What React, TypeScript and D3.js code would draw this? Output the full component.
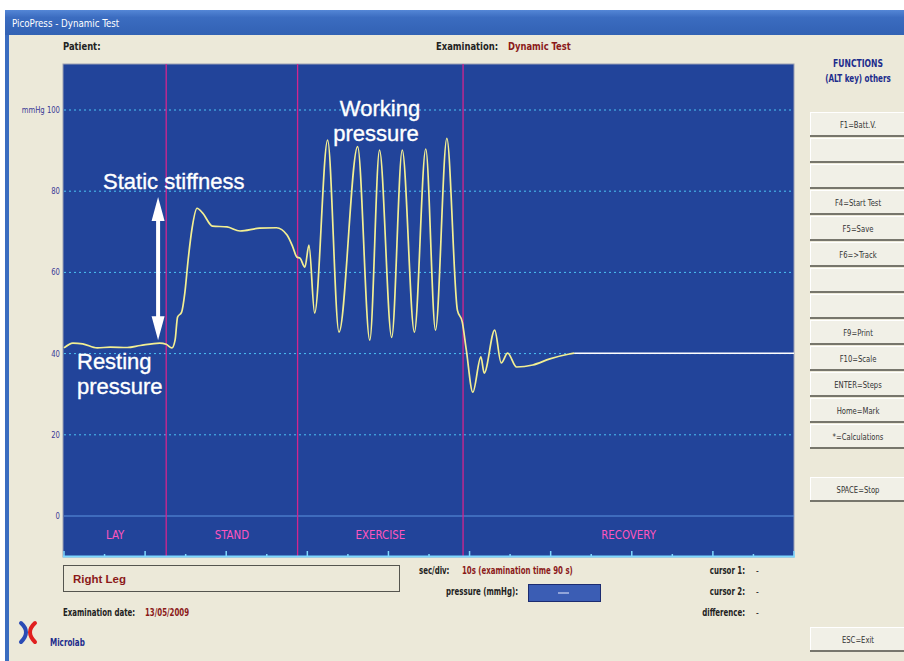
import React from "react";
import * as d3 from "d3";

// pressure trace (time in s, pressure in mmHg)
const traceTime = [
  0, 1.1, 2.3, 4.1, 5.7, 7.8, 9.4, 11.8, 12.6, 13.3, 13.7, 14.0, 14.5, 14.9, 15.3, 15.8, 16.4, 17.1,
  18.3, 20.1, 21.7, 24.1, 26.2, 27.5, 28.2, 28.7, 29.1, 29.7, 30.2, 30.9, 32.5, 33.9, 36.2, 37.7,
  38.9, 40.4, 41.7, 43.2, 44.6, 45.8, 47.2, 48.5, 49.1, 49.6, 50.4, 51.4, 51.8, 53.1, 53.9, 54.7,
  55.8, 57.8, 59.9, 62.3, 62.9
];
const tracePressure = [
  41.4, 42.6, 42.4, 41.4, 41.6, 41.5, 42, 42.6, 42.3, 41.4, 43.4, 49, 50.2, 55, 63, 71, 75.8, 74.6,
  71.4, 71.2, 70.2, 70.9, 71, 69.2, 66.3, 63.8, 63.5, 61.3, 66.7, 50, 92.6, 45.3, 91, 43.3,
  90.1, 44, 90.1, 45.3, 90.4, 45.8, 93, 50.7, 47.8, 40.9, 30.5, 39.2, 35.2, 45.8, 37.7, 40.1,
  36.7, 37.2, 38.7, 39.9, 40.1
];
// flat hold line after recovery
const holdTime = [62.9, 90];
const holdPressure = [40.1, 40.1];

const phaseNames = ["LAY", "STAND", "EXERCISE", "RECOVERY"];
const phaseBounds = [0, 12.6, 28.8, 49.2, 90];
const yTicks = [0, 20, 40, 60, 80, 100];
const xTicks = d3.range(0, 91, 5);

const functionKeys = [
  "F1=Batt.V.", "", "", "F4=Start Test", "F5=Save", "F6=>Track", "", "",
  "F9=Print", "F10=Scale", "ENTER=Steps", "Home=Mark", "*=Calculations"
];

// annotation: static stiffness arrow between these pressures at this time
const stiffnessTime = 11.6;
const stiffnessRange = [43.3, 78.6];

const uiFont = "'DejaVu Sans Condensed', 'DejaVu Sans', sans-serif";
const bigFont = "'Liberation Sans', Arial, sans-serif";

// narrow UI text (the original uses a condensed Tahoma-like face)
function T(props: {
  x: number; y: number; size?: number; sx?: number; bold?: boolean;
  fill?: string; anchor?: string; children: React.ReactNode;
}) {
  const { x, y, size = 10, sx = 0.85, bold = false, fill = "#222", anchor = "start", children } = props;
  return (
    <text transform={`translate(${x},${y}) scale(${sx},1)`} fontSize={size}
      fontWeight={bold ? "bold" : "normal"} fill={fill} textAnchor={anchor} fontFamily={uiFont}>
      {children}
    </text>
  );
}

function Button({ y, label }: { y: number; label: string }) {
  return (
    <g>
      <rect x={810} y={y} width={100} height={24} fill="#f1f0e7" />
      <line x1={810} x2={904} y1={y + 0.5} y2={y + 0.5} stroke="#ffffff" />
      <line x1={810.5} x2={810.5} y1={y} y2={y + 24} stroke="#ffffff" />
      <line x1={810} x2={904} y1={y + 24} y2={y + 24} stroke="#77766c" strokeWidth={2} />
      <T x={858} y={y + 16} size={9.5} sx={0.8} anchor="middle" fill="#333">{label}</T>
    </g>
  );
}

export default function App() {
  const left = 63, right = 794, top = 64, bottom = 557;
  const x = d3.scaleLinear().domain([0, 90]).range([left + 1, right]);
  const y = d3.scaleLinear().domain([0, 100]).range([516, 110]);

  const line = d3
    .line<number>()
    .x((_, i) => x(traceTime[i]))
    .y(d => y(d))
    .curve(d3.curveMonotoneX);
  const holdLine = d3
    .line<number>()
    .x((_, i) => x(holdTime[i]))
    .y(d => y(d));

  const ax = x(stiffnessTime);
  const aTop = y(stiffnessRange[1]);
  const aBot = y(stiffnessRange[0]);

  const big = { fontSize: 22, fill: "#fff", fontFamily: bigFont, stroke: "#fff", strokeWidth: 0.35 };

  return (
    <svg width={904} height={661} style={{ position: "absolute", left: 0, top: 0 }}>
      <defs>
        <linearGradient id="title" x1="0" x2="0" y1="0" y2="1">
          <stop offset="0" stopColor="#5486d6" />
          <stop offset="0.3" stopColor="#3b6cc0" />
          <stop offset="1" stopColor="#3262b4" />
        </linearGradient>
      </defs>
      <rect width={904} height={661} fill="#ffffff" />
      {/* window */}
      <rect x={5} y={10} width={899} height={651} fill="#3a6cc0" />
      <rect x={5} y={10} width={899} height={25} fill="url(#title)" />
      <T x={12} y={27} size={11} sx={0.88} fill="#fff">PicoPress - Dynamic Test</T>
      <rect x={9} y={35} width={895} height={626} fill="#ece9d9" />

      <T x={63} y={50} size={11} bold>Patient:</T>
      <T x={436} y={50} size={11} bold>Examination:</T>
      <T x={508} y={50} size={11} bold fill="#8b1a1a">Dynamic Test</T>

      {/* plot */}
      <rect x={left} y={top} width={right - left} height={bottom - top} fill="#22449a" stroke="#9aa0b4" />
      {yTicks.filter(t => t > 0).map(t => (
        <line key={t} x1={left + 1} x2={right} y1={y(t)} y2={y(t)} stroke="#4cc4f4" strokeDasharray="2,3" />
      ))}
      <line x1={left + 1} x2={right} y1={y(0)} y2={y(0)} stroke="#5c94e0" />
      {yTicks.map(t => (
        <T key={t} x={60} y={y(t) + 3} size={9} sx={0.85} anchor="end" fill="#3a3a96">
          {t === 100 ? "mmHg 100" : t}
        </T>
      ))}
      {phaseBounds.slice(1, -1).map(b => (
        <line key={b} x1={x(b)} x2={x(b)} y1={top} y2={bottom} stroke="#d2258e" strokeWidth={1.3} />
      ))}
      {phaseNames.map((n, i) => (
        <T key={n} x={(x(phaseBounds[i]) + x(phaseBounds[i + 1])) / 2} y={539} size={12} sx={0.95}
          anchor="middle" fill="#ff55bd">
          {n}
        </T>
      ))}
      <line x1={left} x2={right + 1} y1={bottom - 0.5} y2={bottom - 0.5} stroke="#7fd8ff" strokeWidth={2} />
      {xTicks.map((t, i) => (
        <line key={t} x1={x(t)} x2={x(t)} y1={bottom - 1} y2={bottom - (i % 2 === 0 ? 6 : 3)} stroke="#7fd8ff" strokeWidth={1.5} />
      ))}

      <path d={holdLine(holdPressure) || ""} fill="none" stroke="#ffffff" strokeWidth={1.4} />
      <path d={line(tracePressure) || ""} fill="none" stroke="#f3ef92" strokeWidth={1.7} />

      {/* annotations */}
      <text x={103} y={189} {...big}>Static stiffness</text>
      <text x={77} y={369} {...big}>Resting</text>
      <text x={77} y={394} {...big}>pressure</text>
      <text x={380} y={116} textAnchor="middle" {...big}>Working</text>
      <text x={376} y={141} textAnchor="middle" {...big}>pressure</text>
      <line x1={ax} x2={ax} y1={aTop + 20} y2={aBot - 20} stroke="#fff" strokeWidth={4} />
      <path d={`M${ax},${aTop} L${ax - 6.5},${aTop + 24} L${ax + 6.5},${aTop + 24} Z`} fill="#fff" />
      <path d={`M${ax},${aBot} L${ax - 6.5},${aBot - 24} L${ax + 6.5},${aBot - 24} Z`} fill="#fff" />

      {/* bottom panel */}
      <rect x={63.5} y={565.5} width={336} height={26} fill="none" stroke="#55554f" />
      <text x={73} y={583} fontSize={11.5} fontWeight="bold" fill="#8b1a1a" fontFamily={bigFont}>Right Leg</text>
      <T x={63} y={616} size={10} sx={0.78} bold>Examination date:</T>
      <T x={145} y={616} size={10} sx={0.78} bold fill="#8b1a1a">13/05/2009</T>
      <path d="M21,623 Q31,632 21,642" fill="none" stroke="#2a4bb5" strokeWidth={4} strokeLinecap="round" />
      <path d="M35,623 Q25,632 35,642" fill="none" stroke="#e02020" strokeWidth={4} strokeLinecap="round" />
      <T x={50} y={646} size={10} sx={0.8} bold fill="#1c2c8c">Microlab</T>

      <T x={419} y={574} size={10} sx={0.78} bold>sec/div:</T>
      <T x={462} y={574} size={10} sx={0.78} bold fill="#8b1a1a">10s (examination time 90 s)</T>
      <T x={518} y={595} size={10} sx={0.78} bold anchor="end">pressure (mmHg):</T>
      <rect x={528.5} y={584.5} width={72} height={17} fill="#3b5db4" stroke="#1c2c70" />
      <line x1={558} x2={569} y1={593} y2={593} stroke="#e8ecff" />
      {[["cursor 1:", 574], ["cursor 2:", 595], ["difference:", 616]].map(([l, yy]) => (
        <g key={l as string}>
          <T x={745} y={yy as number} size={10} sx={0.78} bold anchor="end">{l}</T>
          <T x={756} y={yy as number} size={10}>-</T>
        </g>
      ))}

      {/* function keys */}
      <T x={858} y={67} size={10} sx={0.85} bold anchor="middle" fill="#1c2c8c">FUNCTIONS</T>
      <T x={858} y={82} size={10} sx={0.8} bold anchor="middle" fill="#1c2c8c">(ALT key) others</T>
      {functionKeys.map((k, i) => (
        <Button key={i} y={112 + i * 26} label={k} />
      ))}
      <Button y={477} label="SPACE=Stop" />
      <Button y={627} label="ESC=Exit" />
    </svg>
  );
}
